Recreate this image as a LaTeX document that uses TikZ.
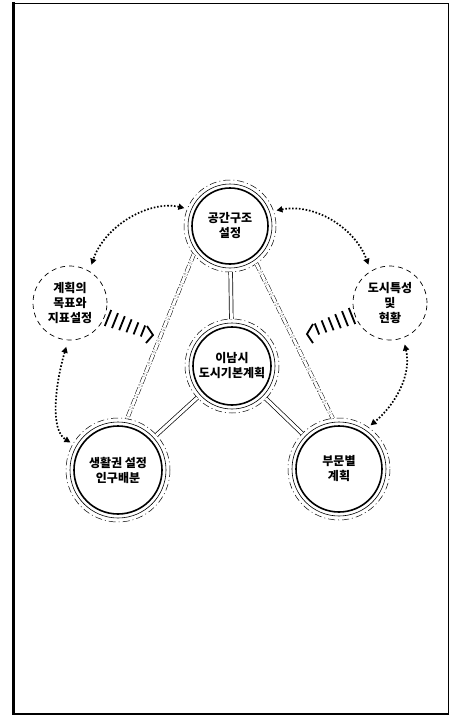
\documentclass[tikz,border=0pt]{standalone}
\usepackage{fontspec}
\newfontfamily\kr{Noto Sans CJK KR}
\usetikzlibrary{arrows.meta}
\begin{document}
\begin{tikzpicture}[x=1pt,y=-1pt,
  lbl/.style={font=\kr\bfseries\fontsize{12}{15}\selectfont, align=center},
  maincirc/.style={circle, draw, line width=1.6pt, inner sep=0pt, outer sep=8pt, lbl},
  sidecirc/.style={circle, draw, line width=0.7pt, dash pattern=on 5pt off 4pt, inner sep=0pt, outer sep=4pt, lbl},
  ring/.style={line width=0.6pt},
  dring/.style={line width=0.5pt, dash pattern=on 7pt off 3pt on 1pt off 3pt},
  link/.style={double, double distance=3pt, line width=0.7pt},
  dlink/.style={double, double distance=3pt, line width=0.5pt, dash pattern=on 7pt off 2pt on 1pt off 2pt},
  dotarr/.style={line width=1.7pt, dash pattern=on 1.6pt off 1.8pt, {Triangle[length=6pt,width=6pt]}-{Triangle[length=6pt,width=6pt]}, shorten <=3pt, shorten >=3pt},
  hatch/.style={line width=1.8pt}
]
\useasboundingbox (0,0) rectangle (452,716);
% frame
\draw[line width=0.8pt] (13,3) rectangle (448,714);
\draw[line width=3pt] (13,2) -- (13,715);
\draw[line width=2pt] (12,714) -- (448,714);

% main circles
\node[maincirc, minimum size=76pt] (top) at (230,226) {공간구조\\설정};
\node[maincirc, minimum size=78pt] (cen) at (232,366) {이남시\\도시기본계획};
\node[maincirc, minimum size=88pt] (bl) at (118,470) {생활권 설정\\인구배분};
\node[maincirc, minimum size=86pt] (br) at (339,469) {부문별\\계획};
\foreach \n/\r in {top/38,cen/39,bl/44,br/43}{
  \draw[ring] (\n) circle ({\r+4});
  \draw[dring] (\n) circle ({\r+8});
}
% side circles
\node[sidecirc, minimum size=74pt] (lft) at (70,303) {계획의\\목표와\\지표설정};
\node[sidecirc, minimum size=74pt] (rgt) at (390,303) {도시특성\\및\\현황};

% links
\draw[link] (top) -- (cen);
\draw[link] (cen) -- (bl);
\draw[link] (cen) -- (br);
\draw[dlink] (top.218) -- (bl.80);
\draw[dlink] (top.305) -- (br.97);

% dotted double arrows
\draw[dotarr] (top.158) .. controls (150,200) and (105,225) .. (lft.60);
\draw[dotarr] (top.19) .. controls (315,203) and (355,228) .. (rgt.120);
\draw[dotarr] (lft.266) .. controls (55,385) and (50,430) .. (bl.150);
\draw[dotarr] (rgt.290) .. controls (412,375) and (395,405) .. (br.55);

% hatched arrows
\foreach \i/\h in {0/8,1/7.5,2/7,3/6.5,4/6,5/5.5}{
  \draw[hatch] ({108+7*\i-0.4*\h},{318+2.6*\i+\h}) -- ({108+7*\i+0.4*\h},{318+2.6*\i-\h});
}
\draw[hatch] (147,326) -- (153,335) -- (146,343);
\foreach \i/\h in {0/8,1/7.5,2/7,3/6.5,4/6,5/5.5}{
  \draw[hatch] ({352-7*\i-0.4*\h},{316+2.6*\i-\h}) -- ({352-7*\i+0.4*\h},{316+2.6*\i+\h});
}
\draw[hatch] (313,324) -- (307,334) -- (313,343);
\end{tikzpicture}
\end{document}
